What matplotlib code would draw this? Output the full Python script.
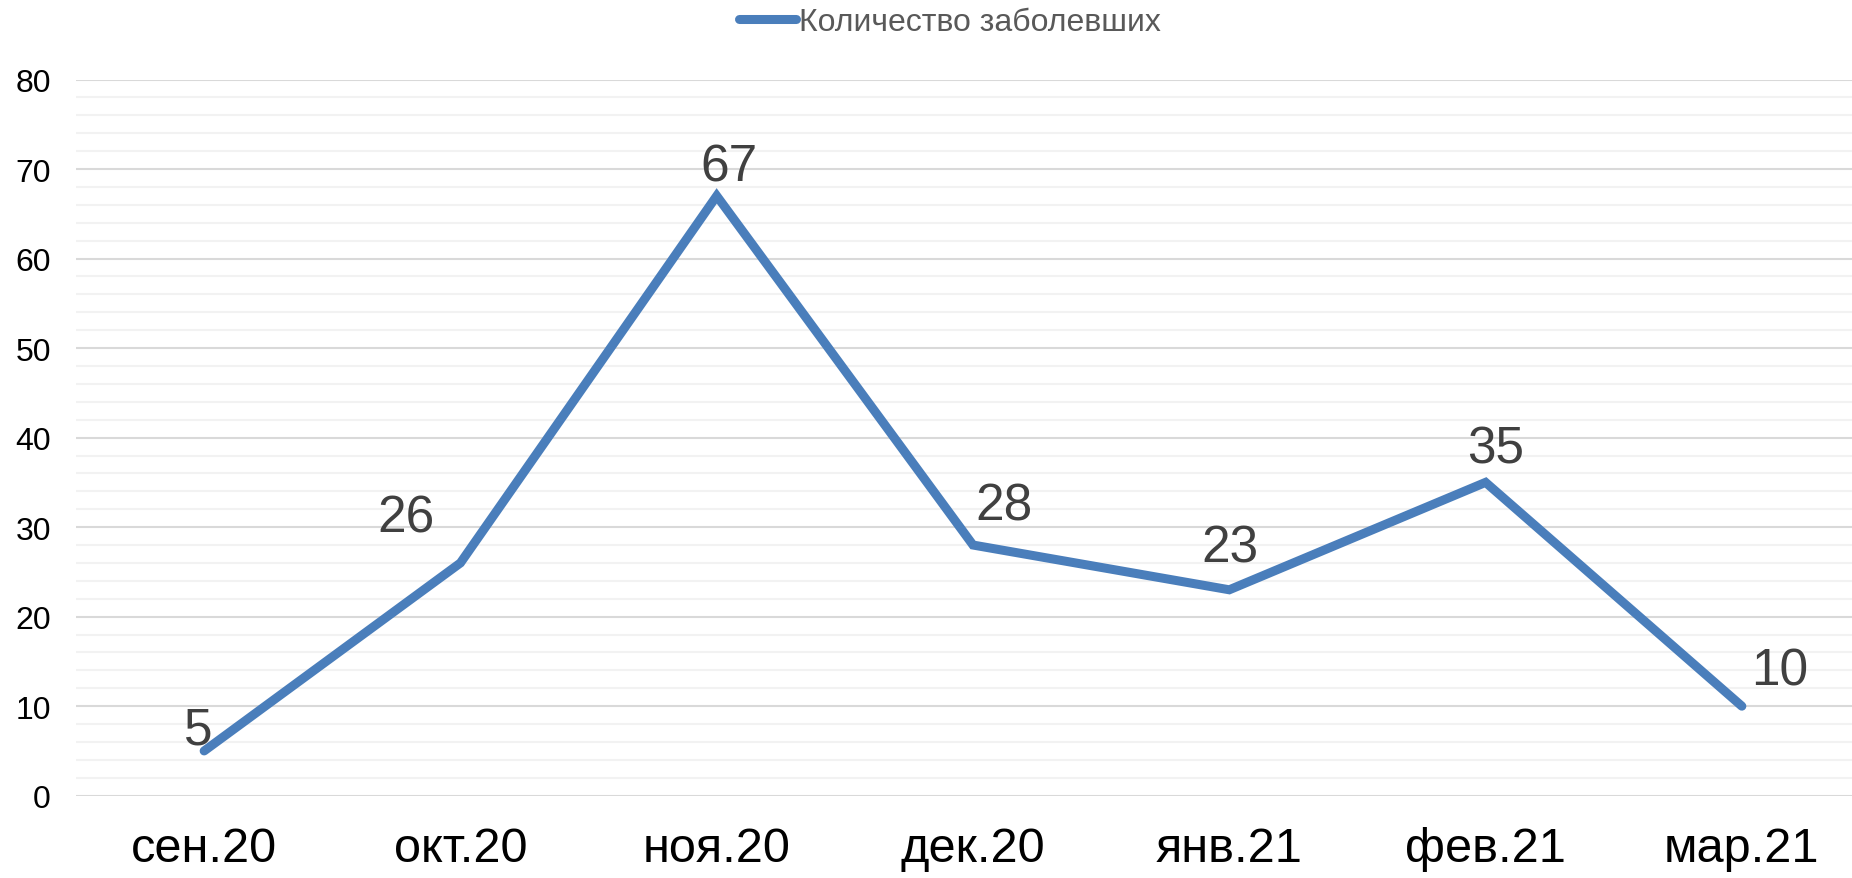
import matplotlib.pyplot as plt
from matplotlib.ticker import MultipleLocator

plt.rcParams["font.family"] = ["Liberation Sans", "DejaVu Sans"]

# data
months = ["сен.20", "окт.20", "ноя.20", "дек.20", "янв.21", "фев.21", "мар.21"]
cases = [5, 26, 67, 28, 23, 35, 10]
series_name = "Количество заболевших"

# label offsets in pixels (dx, dy to baseline)
label_offsets = [(-6, 7), (-54, 31), (12, 15), (31, 26), (1, 28), (10, 20), (38, 22)]

W, H = 1852, 879
fig = plt.figure(figsize=(W / 100, H / 100), dpi=100)
ax = fig.add_axes([76 / W, (H - 796.7) / H, (1870 - 76) / W, (796.7 - 80.5) / H])

x = list(range(len(months)))
line_color = "#4a7ebb"
ax.plot(x, cases, color=line_color, lw=6.5, solid_capstyle="round",
        solid_joinstyle="miter", label=series_name, zorder=3)

for xi, v, (dx, dy) in zip(x, cases, label_offsets):
    ax.annotate(str(v), (xi, v), xytext=(dx, dy), textcoords="offset pixels",
                ha="center", va="baseline", fontsize=37, color="#404040")

ax.set_xlim(-0.5, len(months) - 0.5)
ax.set_ylim(0, 80)
ax.yaxis.set_major_locator(MultipleLocator(10))
ax.yaxis.set_minor_locator(MultipleLocator(2))
ax.set_xticks(x)
ax.set_xticklabels(months, fontsize=35, color="black")
ax.tick_params(axis="x", length=0, pad=22)
ax.tick_params(axis="y", which="both", length=0, pad=18, labelsize=23)
ax.grid(axis="y", which="major", color="#d9d9d9", lw=1.5, zorder=1)
ax.grid(axis="y", which="minor", color="#f2f2f2", lw=1.5, zorder=1)
ax.set_axisbelow(True)
for s in ax.spines.values():
    s.set_visible(False)

fig.legend(loc="center", bbox_to_anchor=(950 / W, 1 - 23 / H), frameon=False,
           fontsize=23, handlelength=1.8, handletextpad=0.1, labelcolor="#595959")

fig.savefig("out.png", dpi=100)
